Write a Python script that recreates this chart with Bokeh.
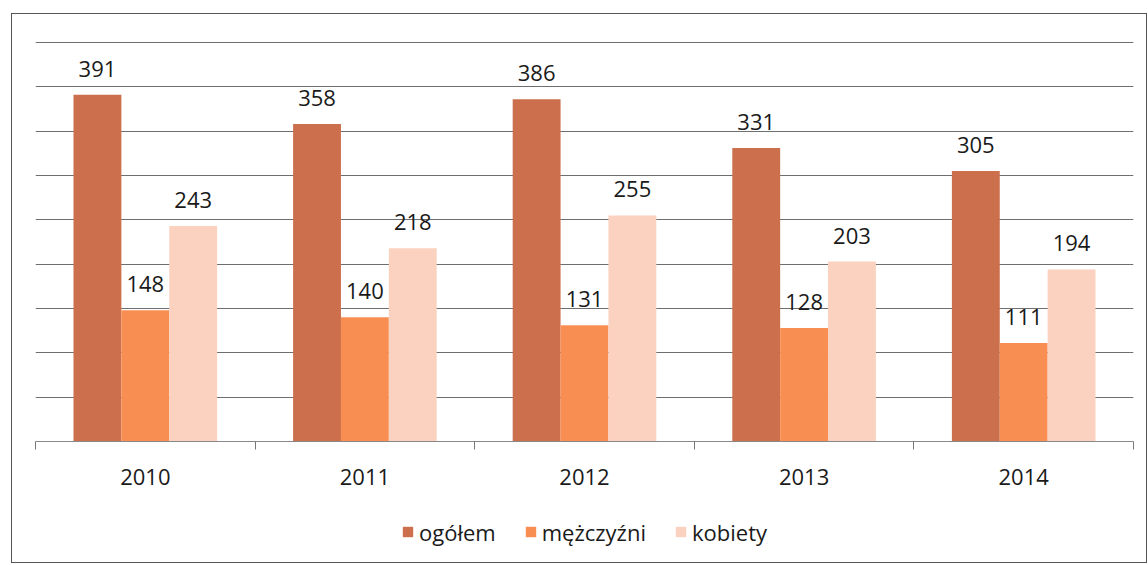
from bokeh.plotting import figure
from bokeh.models import ColumnDataSource, FixedTicker, Range1d, Legend, LegendItem
from bokeh.layouts import column
from bokeh.core.properties import value
from bokeh.embed import file_html
from bokeh.resources import INLINE

years = ["2010", "2011", "2012", "2013", "2014"]
ogolem = [391, 358, 386, 331, 305]
mezczyzni = [148, 140, 131, 128, 111]
kobiety = [243, 218, 255, 203, 194]
series_names = ["ogółem", "mężczyźni", "kobiety"]
colors = ["#CB6F4C", "#F88E52", "#FBD2BF"]

FONT = "Open Sans"
BAR_W = 0.218
offsets = [-BAR_W, 0.0, BAR_W]
W = 1134

p = figure(width=W, height=487, output_backend="svg", toolbar_location=None,
           x_range=Range1d(0, 5), y_range=Range1d(0, 454.5),
           min_border_left=23, min_border_right=13, min_border_top=24, min_border_bottom=60)
p.outline_line_color = None
p.background_fill_color = "white"
p.border_fill_color = "white"

for name, vals, col, off in zip(series_names, [ogolem, mezczyzni, kobiety], colors, offsets):
    xs = [i + 0.5 + off for i in range(len(years))]
    src = ColumnDataSource(dict(x=xs, top=vals, lbl=[str(v) for v in vals]))
    p.vbar(x="x", top="top", width=BAR_W, bottom=0, source=src,
           fill_color=col, line_color=None)
    p.text(x="x", y="top", text="lbl", source=src, text_align="center",
           text_baseline="alphabetic", y_offset=-26, text_font=value(FONT),
           text_font_size="22px", text_color="#1a1a1a")

p.yaxis.visible = False
p.ygrid.ticker = FixedTicker(ticks=list(range(0, 451, 50)))
p.ygrid.grid_line_color = "#6e6e6e"
p.ygrid.grid_line_width = 1
p.xgrid.visible = False

xa = p.xaxis[0]
xa.ticker = FixedTicker(ticks=[i + 0.5 for i in range(len(years))],
                        minor_ticks=list(range(len(years) + 1)))
xa.major_label_overrides = {i + 0.5: y for i, y in enumerate(years)}
xa.major_tick_out = 0
xa.major_tick_in = 0
xa.minor_tick_out = 8
xa.minor_tick_in = 0
xa.minor_tick_line_color = "#777777"
xa.axis_line_color = "#888888"
xa.major_label_standoff = 19
xa.major_label_text_font = FONT
xa.major_label_text_font_size = "22px"
xa.major_label_text_color = "#1a1a1a"

# legend strip (legend-only glyphs of zero height, hidden outside the range)
lg = figure(width=W, height=61, output_backend="svg", toolbar_location=None,
            x_range=Range1d(0, 1), y_range=Range1d(0, 1),
            min_border_left=0, min_border_right=0, min_border_top=0, min_border_bottom=0)
lg.axis.visible = False
lg.grid.visible = False
lg.outline_line_color = None
lg.background_fill_color = "white"
lg.border_fill_color = "white"
items = []
for name, col in zip(series_names, colors):
    r = lg.vbar(x=[-5], top=[-5], bottom=-5, width=0.1, fill_color=col, line_color=None)
    items.append(LegendItem(label=name, renderers=[r]))
legend = Legend(items=items, orientation="horizontal", location="center",
                label_text_font=FONT, label_text_font_size="22px",
                label_text_color="#1a1a1a", glyph_width=13, glyph_height=13,
                label_standoff=5, spacing=28, border_line_color=None,
                background_fill_alpha=0, margin=0, padding=0)
lg.add_layout(legend, "center")

layout = column(p, lg, spacing=0)
layout.styles = {"border": "1px solid #555555", "margin-left": "11px", "margin-top": "13px"}

open("out.html", "w").write(file_html(layout, INLINE))
